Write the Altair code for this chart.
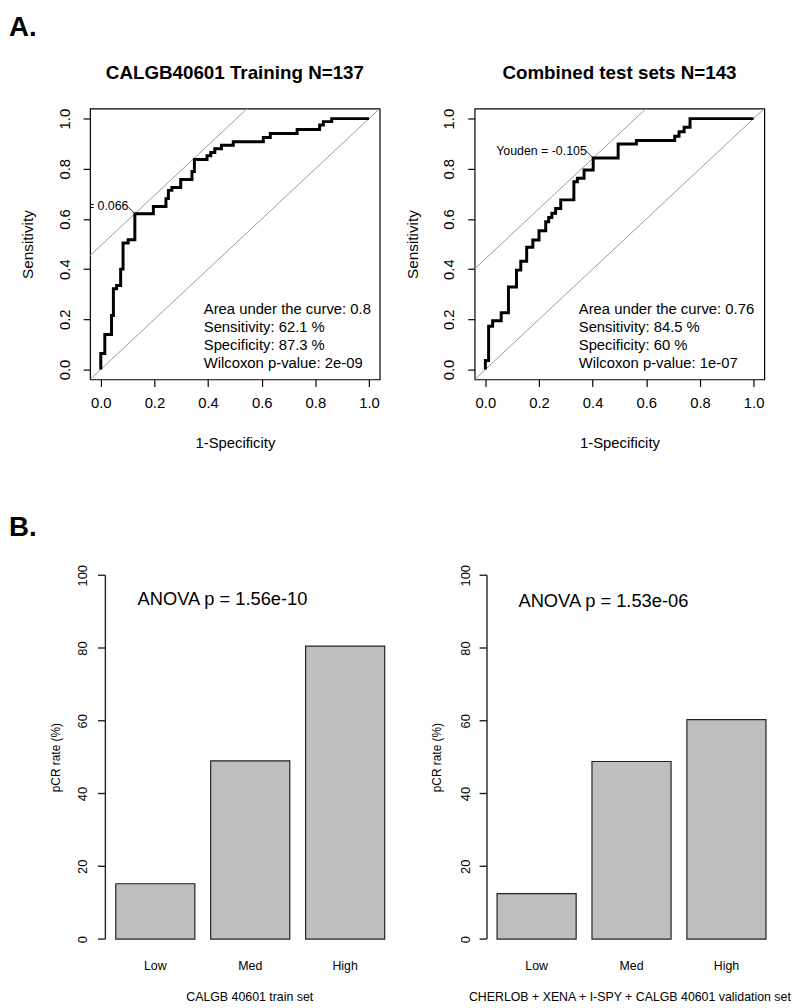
import altair as alt
import pandas as pd

FONT = "Liberation Sans"

# ---------------- Panel A: ROC curves (1-specificity, sensitivity) ----------------
train_fpr = [0.0, 0.0, 0.015, 0.015, 0.040, 0.040, 0.047, 0.047, 0.059, 0.059,
             0.074, 0.074, 0.083, 0.083, 0.102, 0.102, 0.127, 0.127, 0.196, 0.196,
             0.243, 0.243, 0.252, 0.252, 0.265, 0.265, 0.298, 0.298, 0.340, 0.340,
             0.349, 0.349, 0.396, 0.396, 0.410, 0.410, 0.425, 0.425, 0.450, 0.450,
             0.494, 0.494, 0.606, 0.606, 0.632, 0.632, 0.732, 0.732, 0.816, 0.816,
             0.830, 0.830, 0.861, 0.861, 1.0]
train_sens = [0.0, 0.064, 0.064, 0.139, 0.139, 0.215, 0.215, 0.322, 0.322, 0.335,
              0.335, 0.400, 0.400, 0.504, 0.504, 0.517, 0.517, 0.621, 0.621, 0.650,
              0.650, 0.681, 0.681, 0.714, 0.714, 0.725, 0.725, 0.757, 0.757, 0.789,
              0.789, 0.837, 0.837, 0.852, 0.852, 0.865, 0.865, 0.880, 0.880, 0.894,
              0.894, 0.908, 0.908, 0.925, 0.925, 0.941, 0.941, 0.957, 0.957, 0.975,
              0.975, 0.988, 0.988, 1.0, 1.0]

test_fpr = [0.0, 0.0, 0.012, 0.012, 0.027, 0.027, 0.059, 0.059, 0.086, 0.086,
            0.116, 0.116, 0.132, 0.132, 0.154, 0.154, 0.177, 0.177, 0.200, 0.200,
            0.225, 0.225, 0.236, 0.236, 0.248, 0.248, 0.262, 0.262, 0.281, 0.281,
            0.330, 0.330, 0.343, 0.343, 0.368, 0.368, 0.402, 0.402, 0.495, 0.495,
            0.563, 0.563, 0.706, 0.706, 0.722, 0.722, 0.741, 0.741, 0.763, 0.763, 1.0]
test_sens = [0.0, 0.036, 0.036, 0.172, 0.172, 0.194, 0.194, 0.226, 0.226, 0.329,
             0.329, 0.396, 0.396, 0.431, 0.431, 0.487, 0.487, 0.516, 0.516, 0.553,
             0.553, 0.589, 0.589, 0.606, 0.606, 0.623, 0.623, 0.642, 0.642, 0.676,
             0.676, 0.748, 0.748, 0.762, 0.762, 0.795, 0.795, 0.843, 0.843, 0.899,
             0.899, 0.913, 0.913, 0.930, 0.930, 0.948, 0.948, 0.966, 0.966, 1.0, 1.0]

# Youden-optimal thresholds (1-specificity, sensitivity)
train_youden = [0.127, 0.621]
test_youden = [0.402, 0.843]
youden_labels = ["Youden = 0.066", "Youden = -0.105"]

roc_titles = ["CALGB40601 Training N=137", "Combined test sets N=143"]
train_stats = ["Area under the curve: 0.8", "Sensitivity: 62.1 %",
               "Specificity: 87.3 %", "Wilcoxon p-value: 2e-09"]
test_stats = ["Area under the curve: 0.76", "Sensitivity: 84.5 %",
              "Specificity: 60 %", "Wilcoxon p-value: 1e-07"]
roc_ticks = [0.0, 0.2, 0.4, 0.6, 0.8, 1.0]

# ---------------- Panel B: pCR rate bars ----------------
groups = ["Low", "Med", "High"]
train_rate = [15.2, 49.0, 80.5]
test_rate = [12.5, 48.8, 60.3]
anova_labels = ["ANOVA p = 1.56e-10", "ANOVA p = 1.53e-06"]
bar_xtitles = ["CALGB 40601 train set",
               "CHERLOB + XENA + I-SPY + CALGB 40601 validation set"]
bar_ticks = [0, 20, 40, 60, 80, 100]

W_ROC, H_ROC = 293, 274
H_BAR = 368


def label(s, x, y, size, weight="normal", align="left", baseline="alphabetic"):
    return alt.Chart(pd.DataFrame({"t": [s]})).mark_text(
        align=align, baseline=baseline, fontSize=size, fontWeight=weight,
        font=FONT, color="black"
    ).encode(text="t:N", x=alt.value(x), y=alt.value(y))


def roc_panel(fpr, sens, youden, ylab, title, stats, stats_x, extra=None):
    xs = alt.Scale(domain=[-0.04, 1.04], nice=False, zero=False)
    ys = alt.Scale(domain=[-0.04, 1.04], nice=False, zero=False)
    xaxis = alt.Axis(values=roc_ticks, format=".1f", title="1-Specificity",
                     domain=False, grid=False, tickSize=7, tickColor="black",
                     tickWidth=1.2,
                     labelColor="black", labelFontSize=15, labelPadding=9,
                     labelFlush=False, labelOverlap=False, labelFont=FONT,
                     titleFont=FONT, titleFontSize=15, titleFontWeight="normal",
                     titleColor="black", titleX=W_ROC / 2, titleY=64,
                     titleBaseline="middle", titleAlign="center")
    yaxis = alt.Axis(values=roc_ticks, format=".1f", title="Sensitivity",
                     domain=False, grid=False, tickSize=7, tickColor="black",
                     tickWidth=1.2,
                     labelColor="black", labelFontSize=15, labelPadding=19,
                     labelAngle=270, labelAlign="center", labelBaseline="middle",
                     labelFlush=False, labelOverlap=False, labelFont=FONT,
                     titleFont=FONT, titleFontSize=15.5, titleFontWeight="normal",
                     titleColor="black", titleX=-63, titleY=H_ROC / 2,
                     titleAngle=270, titleBaseline="middle", titleAlign="center")
    c = youden[1] - youden[0]
    ref = alt.Chart(pd.DataFrame({
        "x": [-1.0, 2.0, -1.0, 2.0],
        "y": [-1.0, 2.0, -1.0 + c, 2.0 + c],
        "g": ["diag", "diag", "youden", "youden"]})
    ).mark_line(color="#9a9a9a", strokeWidth=1, clip=True).encode(
        x=alt.X("x:Q", scale=xs, axis=xaxis),
        y=alt.Y("y:Q", scale=ys, axis=yaxis),
        detail="g:N")
    curve = alt.Chart(pd.DataFrame({
        "fpr": fpr, "sens": sens, "i": list(range(len(fpr)))})
    ).mark_line(color="black", strokeWidth=3, strokeJoin="miter").encode(
        x=alt.X("fpr:Q", scale=xs, axis=xaxis),
        y=alt.Y("sens:Q", scale=ys, axis=yaxis),
        order="i:Q")
    pt = pd.DataFrame({"fpr": [youden[0]], "sens": [youden[1]],
                       "fpr2": [youden[0] - 0.026], "sens2": [youden[1] + 0.028],
                       "t": [ylab]})
    leader = alt.Chart(pt).mark_rule(color="black", strokeWidth=0.8).encode(
        x=alt.X("fpr:Q", scale=xs, axis=xaxis),
        y=alt.Y("sens:Q", scale=ys, axis=yaxis),
        x2="fpr2:Q", y2="sens2:Q")
    ytext = alt.Chart(pt).mark_text(
        align="right", baseline="alphabetic", dx=-6.5, dy=-3.5, fontSize=12.5,
        font=FONT, color="black", clip=True
    ).encode(x=alt.X("fpr:Q", scale=xs, axis=xaxis),
             y=alt.Y("sens:Q", scale=ys, axis=yaxis), text="t:N")
    layers = [ref, curve, leader, ytext,
              label(title, W_ROC / 2, -30, 19, "bold", "center")]
    for k, s in enumerate(stats):
        layers.append(label(s, stats_x, 207.7 + 18.3 * k, 15))
    if extra is not None:
        layers.append(extra)
    return alt.layer(*layers).properties(
        width=W_ROC, height=H_ROC,
        view=alt.ViewBackground(stroke="black", strokeWidth=1.2))


def bar_panel(rate, anova, xtitle, width, axis_off, pad_outer, anova_xy,
              title_x, ytitle_x, label_pad, extra=None):
    ysc = alt.Scale(domain=[0, 100], nice=False, zero=False)
    yaxis = alt.Axis(values=bar_ticks, title="pCR rate (%)",
                     offset=-axis_off, grid=False, domain=False, ticks=False,
                     tickSize=0, labelAngle=270, labelAlign="center",
                     labelBaseline="middle", labelPadding=label_pad,
                     labelFontSize=13, labelColor="black",
                     labelFont=FONT, labelFlush=False,
                     labelOverlap=False, titleFont=FONT,
                     titleFontSize=12, titleFontWeight="normal",
                     titleColor="black", titleX=ytitle_x,
                     titleY=H_BAR / 2, titleAngle=270,
                     titleBaseline="middle", titleAlign="center")
    df = pd.DataFrame({"group": groups, "rate": rate})
    bars = alt.Chart(df).mark_bar(fill="#bebebe", stroke="#222222",
                                  strokeWidth=1.2).encode(
        x=alt.X("group:N", sort=groups,
                scale=alt.Scale(paddingInner=1 / 6, paddingOuter=pad_outer,
                                align=0.667),
                axis=alt.Axis(title=xtitle, domain=False, ticks=False, tickSize=0,
                              labelAngle=0, labelFontSize=12.5, labelPadding=21,
                              labelColor="black", labelFont=FONT, titleFont=FONT,
                              titleFontSize=12.5, titleFontWeight="normal",
                              titleColor="black", titleX=title_x, titleY=58,
                              titleBaseline="middle", titleAlign="center")),
        y=alt.Y("rate:Q", scale=ysc, axis=yaxis))
    # R-style y axis line (spanning 0..100) and outward ticks
    axis_line = alt.Chart(pd.DataFrame({"lo": [bar_ticks[0]], "hi": [bar_ticks[-1]]})
                          ).mark_rule(color="#222222", strokeWidth=1.4).encode(
        x=alt.value(axis_off + 0.5),
        y=alt.Y("lo:Q", scale=ysc, axis=yaxis), y2="hi:Q")
    axis_ticks = alt.Chart(pd.DataFrame({"v": bar_ticks})).mark_rule(
        color="#222222", strokeWidth=1.4).encode(
        x=alt.value(axis_off - 7), x2=alt.value(axis_off + 0.5),
        y=alt.Y("v:Q", scale=ysc, axis=yaxis))
    layers = [bars, axis_line, axis_ticks,
              label(anova, anova_xy[0], anova_xy[1], 18.5)]
    if extra is not None:
        layers.append(extra)
    return alt.layer(*layers).properties(width=width, height=H_BAR)


roc_left = roc_panel(train_fpr, train_sens, train_youden, youden_labels[0],
                     roc_titles[0], train_stats, 115,
                     extra=label("A.", -82, -95, 28, "bold", "left", "top"))
roc_right = roc_panel(test_fpr, test_sens, test_youden, youden_labels[1],
                      roc_titles[1], test_stats, 105.3)
bar_left = bar_panel(train_rate, anova_labels[0], bar_xtitles[0], 311, 15, 0.203,
                     (48, 30), 161, -50, 23,
                     extra=label("B.", -82, -62, 28, "bold", "left", "top"))
bar_right = bar_panel(test_rate, anova_labels[1], bar_xtitles[1], 306, 12, 0.177,
                      (44.3, 31.7), 156.5, -51, 21.5)

chart = alt.concat(
    roc_left, roc_right, bar_left, bar_right,
    columns=2, spacing={"row": 198, "column": 78}, bounds="flush"
).properties(
    padding={"left": 0, "top": 0, "right": 0, "bottom": 0}
).configure(font=FONT).configure_view(stroke="transparent")

chart.save("out.html", embed_options={"renderer": "svg", "actions": False})
